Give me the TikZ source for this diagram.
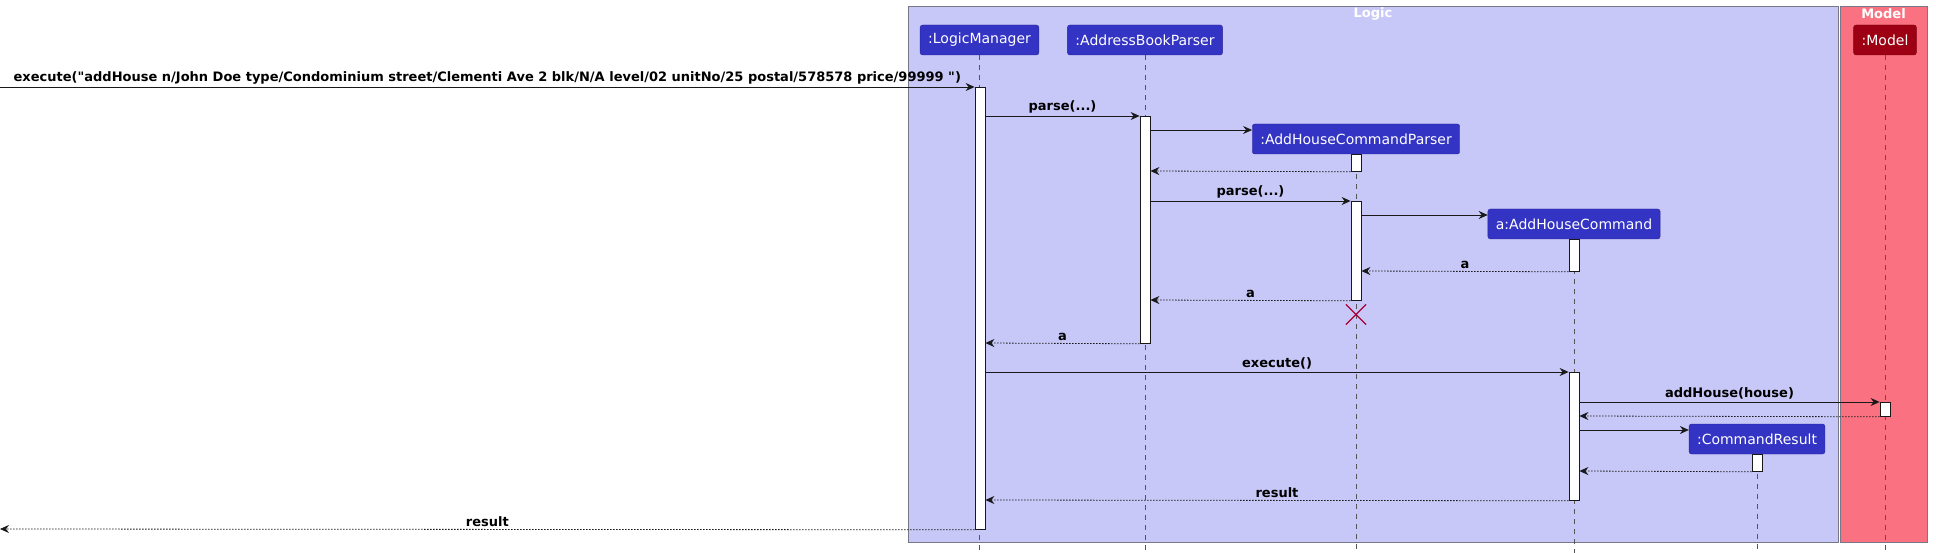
\documentclass[tikz,border=0pt]{standalone}
\usepackage{fontspec}
\setmainfont{DejaVu Sans}
\usetikzlibrary{arrows.meta,shapes.misc}
\definecolor{partblue}{HTML}{3333C4}
\definecolor{partedge}{HTML}{28289A}
\definecolor{modelred}{HTML}{9D0012}
\definecolor{modeledge}{HTML}{7A0010}
\definecolor{logicfill}{HTML}{C8C8F8}
\definecolor{modelfill}{HTML}{FA7282}
\definecolor{framegray}{HTML}{777788}
\definecolor{lifegray}{HTML}{555555}
\definecolor{destroyred}{HTML}{A80036}
\tikzset{
    participant/.style={draw=partedge,fill=partblue,rounded corners=2.5pt,text=white,
        minimum height=30pt,inner xsep=8pt,font=\fontsize{14}{16}\selectfont},
    lifeline/.style={draw=lifegray,dash pattern=on 5pt off 5pt,line width=0.5pt},
    actbar/.style={draw=black!90,fill=white,minimum width=10pt,inner sep=0pt,line width=0.8pt,anchor=north},
    msg/.style={-{Stealth[length=9pt,width=8pt,inset=3pt]},line width=0.8pt,draw=black!90},
    ret/.style={msg,dash pattern=on 1.5pt off 1.5pt},
    lbl/.style={font=\bfseries\fontsize{13}{15}\selectfont,above,inner sep=2.5pt},
    frametitle/.style={text=white,font=\bfseries\fontsize{13}{15}\selectfont},
}

\begin{document}
\begin{tikzpicture}[x=1pt,y=-1pt]
\useasboundingbox (0,0) rectangle (1936,553);
% boxes
\draw[draw=framegray,fill=logicfill] (908,6) rectangle (1838,542);
\draw[draw=framegray,fill=modelfill] (1840,6) rectangle (1927,542);
\node[frametitle] (logicT) at (1373,14) {Logic};
\node[frametitle] (modelT) at (1883.5,14) {Model};
% participants
\node[participant] (lm) at (979.5,40) {:LogicManager};
\node[participant] (abp) at (1145,40) {:AddressBookParser};
\node[participant] (ahcp) at (1356,139) {:AddHouseCommandParser};
\node[participant] (ahc) at (1574,224) {a:AddHouseCommand};
\node[participant] (cr) at (1757,439) {:CommandResult};
\node[participant,fill=modelred,draw=modeledge] (model) at (1885,40) {:Model};
\coordinate (bottom) at (0,553);
\foreach \p in {lm,abp,ahcp,ahc,cr,model}
    \draw[lifeline] (\p.south) -- (\p.south |- bottom);
% activations
\node[actbar,minimum height=442pt] (lmA) at (980,87) {};
\node[actbar,minimum height=227pt] (abpA) at (1145,116) {};
\node[actbar,minimum height=17pt] (ahcpA) at (1356,154) {};
\node[actbar,minimum height=99pt] (ahcpB) at (1356,201) {};
\node[actbar,minimum height=32pt] (ahcA) at (1574,239) {};
\node[actbar,minimum height=128pt] (ahcB) at (1574,372) {};
\node[actbar,minimum height=14pt] (modelA) at (1885,402) {};
\node[actbar,minimum height=17pt] (crA) at (1757,454) {};
\node[cross out,draw=destroyred,line width=1.2pt,minimum size=19pt,inner sep=0pt] (ahcpX) at (1356,314.5) {};
% messages
\coordinate (found) at (0,87);
\coordinate (lost) at (0,529);
\foreach \n/\y in {m1/116,m2/130,m3/171,m4/201,m5/215,m6/271,m7/300,m8/343,m9/372,m10/402,m11/416,m12/430,m13/471,m14/500}
    \coordinate (\n) at (0,\y);
\draw[msg] (found) -- (lmA.north west) node[lbl,midway] {execute(\textquotedbl addHouse n/John Doe type/Condominium street/Clementi Ave 2 blk/N/A level/02 unitNo/25 postal/578578 price/99999 \textquotedbl)};
\draw[msg] (lmA.east |- m1) -- (abpA.north west) node[lbl,midway] {parse(...)};
\draw[msg] (abpA.east |- m2) -- (ahcp.west |- m2);
\draw[ret] (ahcpA.south west) -- (abpA.east |- m3);
\draw[msg] (abpA.east |- m4) -- (ahcpB.north west) node[lbl,midway] {parse(...)};
\draw[msg] (ahcpB.east |- m5) -- (ahc.west |- m5);
\draw[ret] (ahcA.south west) -- (ahcpB.east |- m6) node[lbl,midway] {a};
\draw[ret] (ahcpB.south west) -- (abpA.east |- m7) node[lbl,midway] {a};
\draw[ret] (abpA.south west) -- (lmA.east |- m8) node[lbl,midway] {a};
\draw[msg] (lmA.east |- m9) -- (ahcB.north west) node[lbl,midway] {execute()};
\draw[msg] (ahcB.east |- m10) -- (modelA.north west) node[lbl,midway] {addHouse(house)};
\draw[ret] (modelA.south west) -- (ahcB.east |- m11);
\draw[msg] (ahcB.east |- m12) -- (cr.west |- m12);
\draw[ret] (crA.south west) -- (ahcB.east |- m13);
\draw[ret] (ahcB.south west) -- (lmA.east |- m14) node[lbl,midway] {result};
\draw[ret] (lmA.south west) -- (lost) node[lbl,midway] {result};
\end{tikzpicture}
\end{document}
